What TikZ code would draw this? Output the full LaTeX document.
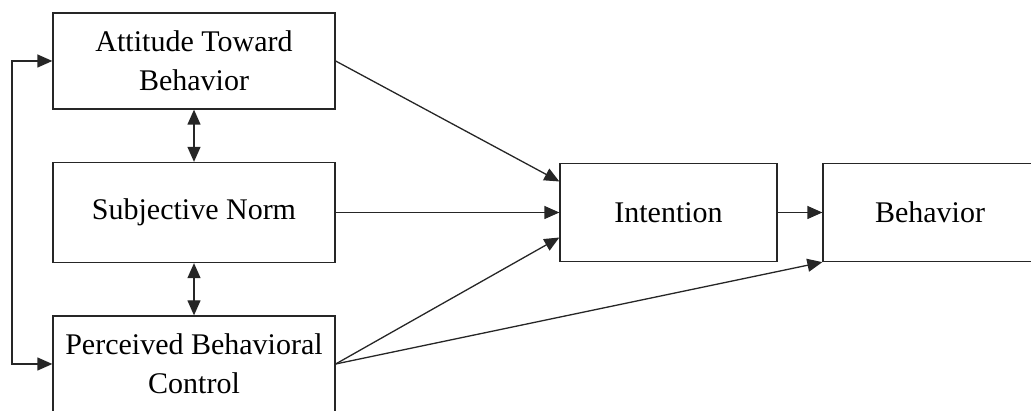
\documentclass[tikz,border=0pt]{standalone}
\usepackage{fontspec}
\setmainfont{Liberation Serif}
\usetikzlibrary{arrows.meta,calc}
\begin{document}
\begin{tikzpicture}[x=1pt,y=-1pt,
  box/.style={draw=black!85,line width=1.3pt,inner sep=0pt,align=center,
    font=\fontsize{30}{39}\selectfont},
  tip/.style={Triangle[length=15pt,width=13pt]},
  conn/.style={draw=black!85,line width=1.3pt,-{Triangle[length=15pt,width=13pt]}},
  dconn/.style={draw=black!85,line width=1.3pt,{Triangle[length=15pt,width=13pt]}-{Triangle[length=15pt,width=13pt]}}]
\clip (0,0) rectangle (1031,411);
\node[box,minimum width=282pt,minimum height=96pt] (att) at (194,61) {Attitude Toward\\Behavior};
\node[box,minimum width=282pt,minimum height=100pt] (sn) at (194,212.5) {Subjective Norm};
\node[box,minimum width=282pt,minimum height=96pt] (pbc) at (194,364) {Perceived Behavioral\\Control};
\node[box,minimum width=217pt,minimum height=98pt] (int) at (668.5,212.5) {Intention};
\node[box,minimum width=214pt,minimum height=98pt] (beh) at (930,212.5) {Behavior};
\coordinate (fbtop) at (12,61);
\coordinate (fbbot) at (12,364);
\draw[dconn] (att.west) -- (fbtop) -- (fbbot) -- (pbc.west);
\draw[dconn] (att.south) -- (sn.north);
\draw[dconn] (sn.south) -- (pbc.north);
\draw[conn] (att.east) -- ($(int.west)+(0,-31)$);
\draw[conn] (sn.east) -- (int.west);
\draw[conn] (pbc.east) -- ($(int.west)+(0,25)$);
\draw[conn] (pbc.east) -- (beh.south west);
\draw[conn] (int.east) -- (beh.west);
\end{tikzpicture}
\end{document}
